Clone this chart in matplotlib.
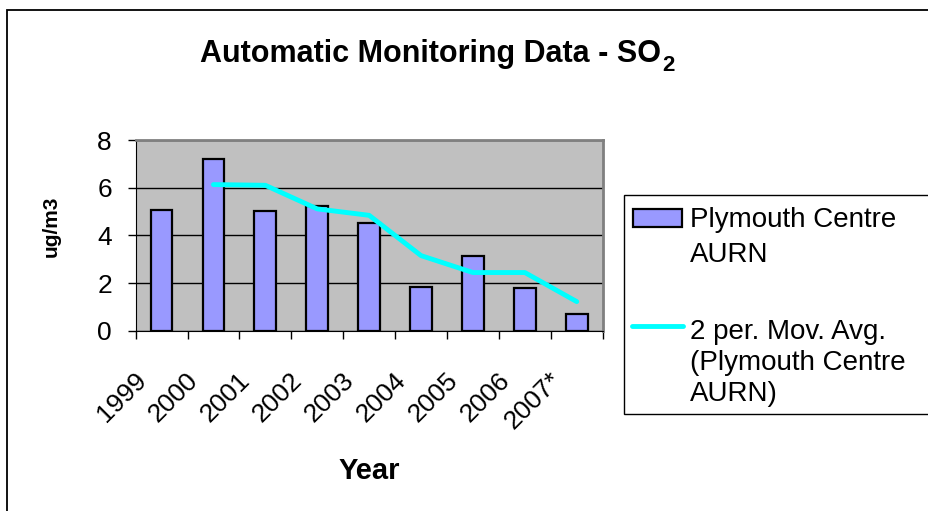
import matplotlib
matplotlib.use("Agg")
import matplotlib.pyplot as plt
import matplotlib.transforms as mtransforms
from matplotlib.patches import Rectangle
from matplotlib.lines import Line2D
import numpy as np

# values
years = ["1999", "2000", "2001", "2002", "2003", "2004", "2005", "2006", "2007*"]
so2 = [5.08, 7.19, 5.03, 5.22, 4.51, 1.83, 3.13, 1.80, 0.70]
# 2 period moving average, starts at the second year
mov_avg = [6.13, 6.10, 5.11, 4.84, 3.15, 2.44, 2.44, 1.22]
y_ticks = [0, 2, 4, 6, 8]

bar_label = ["Plymouth Centre", "AURN"]
line_label = ["2 per. Mov. Avg.", "(Plymouth Centre", "AURN)"]

plt.rcParams["font.family"] = ["Liberation Sans", "DejaVu Sans"]

W, H = 929, 511
fig = plt.figure(figsize=(W / 100, H / 100), dpi=100)
fig.patch.set_facecolor("white")


def fx(px):
    return px / W


def fy(py):
    return 1 - py / H


# outer chart border (right and bottom edges are cut off in the reference)
fig.patches.append(Rectangle((fx(7), -0.2), 1.5, fy(10) + 0.2, transform=fig.transFigure,
                             facecolor="none", edgecolor="black", lw=1.3, zorder=0))

ax = fig.add_axes([fx(135.6), fy(330.7), fx(602.7) - fx(135.6), fy(140) - fy(330.7)])
ax.set_facecolor("#C0C0C0")

x = np.arange(len(years))
ax.bar(x, so2, width=0.42, color="#9999FF", edgecolor="black", lw=1.6, zorder=3)
ax.plot(x[1:], mov_avg, color="#00FFFF", lw=3.5, solid_capstyle="round",
        solid_joinstyle="round", zorder=4)

ax.set_xlim(-0.5, len(years) - 0.5)
ax.set_ylim(0, 8)
ax.set_yticks(y_ticks)
ax.yaxis.grid(True, color="black", lw=1)
ax.set_axisbelow(True)

for side in ["top", "right"]:
    ax.spines[side].set_color("#808080")
    ax.spines[side].set_linewidth(2)
ax.spines["left"].set_color("black")
ax.spines["bottom"].set_color("black")

ax.tick_params(axis="y", direction="out", length=6, width=1, labelsize=19, pad=11)
ax.set_xticks(x)
ax.set_xticks(np.arange(-0.5, len(years)), minor=True)
ax.tick_params(axis="x", which="major", length=0, pad=33)
ax.tick_params(axis="x", which="minor", direction="out", length=6, width=1)
ax.set_xticklabels(years, rotation=45, ha="right", va="center",
                   rotation_mode="anchor", fontsize=19)
shift = mtransforms.ScaledTranslation(-19 / 100, 0, fig.dpi_scale_trans)
for lab in ax.get_xticklabels():
    lab.set_transform(lab.get_transform() + shift)

# title with subscript
title = fig.text(fx(200), fy(61.7), "Automatic Monitoring Data - SO", fontsize=22,
                 fontweight="bold", ha="left", va="baseline")
ax.annotate("2", xy=(1, 0), xycoords=title, xytext=(1, -1.5), textcoords="offset points",
            fontsize=16, fontweight="bold", ha="left", va="baseline", annotation_clip=False)

fig.text(fx(51), fy(226), "ug/m3", rotation=90, fontsize=15, fontweight="bold",
         ha="center", va="center")
fig.text(fx(369), fy(479), "Year", fontsize=21, fontweight="bold", ha="center", va="baseline")

# legend box
fig.patches.append(Rectangle((fx(624), fy(414)), 0.5, fy(195) - fy(414), transform=fig.transFigure,
                             facecolor="white", edgecolor="black", lw=1, zorder=1))
fig.patches.append(Rectangle((fx(633), fy(227)), fx(682) - fx(633), fy(209) - fy(227),
                             transform=fig.transFigure, facecolor="#9999FF",
                             edgecolor="black", lw=1.6, zorder=2))
fig.lines.append(Line2D([fx(632), fx(683)], [fy(326), fy(326)], transform=fig.transFigure,
                        color="#00FFFF", lw=3.5, solid_capstyle="round", zorder=2))
for txt, base in zip(bar_label + line_label, [227, 262, 339, 370, 401]):
    fig.text(fx(690), fy(base), txt, fontsize=20, ha="left", va="baseline", zorder=3)

fig.savefig("out.png", dpi=100, facecolor="white")
